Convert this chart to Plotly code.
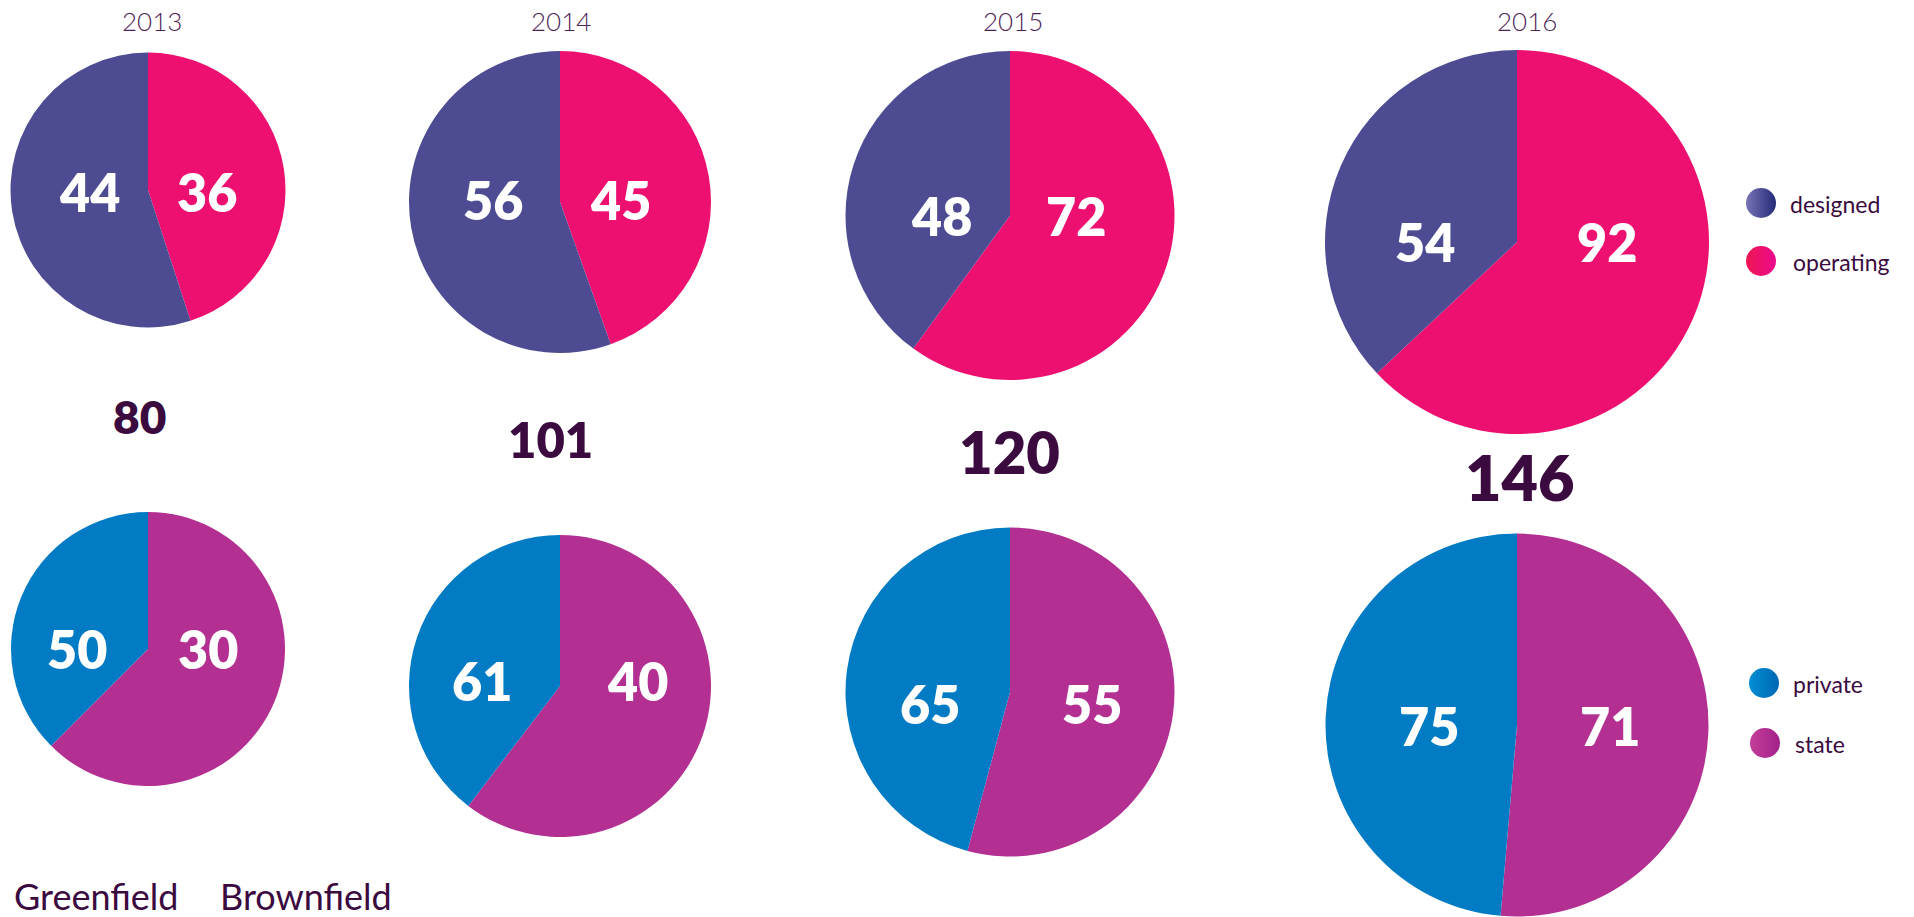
import plotly.graph_objects as go

# ---------------- data ----------------
years = ["2013", "2014", "2015", "2016"]
designed = [44, 56, 48, 54]
operating = [36, 45, 72, 92]
private = [50, 61, 65, 75]
state = [30, 40, 55, 71]
totals = [80, 101, 120, 146]
legend_top = ["designed", "operating"]
legend_bottom = ["private", "state"]
footer_labels = ["Greenfield", "Brownfield"]

# ---------------- layout constants (pixels) ----------------
W, H = 1914, 917
CX = [148, 560, 1010, 1517]
TOP_CY = [190, 202, 215.5, 242]
TOP_D = [275, 302, 329, 384]
BOT_CY = [649, 686, 692, 725]
BOT_D = [274, 302, 329, 383]
TOP_LDX = [(-59, 59), (-67, 60), (-69, 66), (-92, 90)]
BOT_LDX = [(-71, 60), (-78, 77), (-80, 82), (-88, 93)]
TOP_LDY = [2, -2, 0, 0]
BOT_LDY = [0, -5, 12, 1]
YEAR_X = [152, 561, 1013, 1527]
YEAR_Y = 21
TOTAL_XY = [(139, 416), (550, 439), (1009, 451), (1520, 476)]
TOTAL_SIZE = [46, 49, 58, 63]

C_DESIGNED = ("#7873b5", "#242b78", "#4d4c92")
C_OPERATING = ("#ee1652", "#ec0a8d", "#ed1070")
C_PRIVATE = ("#008ed3", "#0067b4", "#007bc4")
C_STATE = ("#c43d98", "#a2218a", "#b32f91")
DARK = "#3b0a3f"
YEAR_COL = "#4f1f58"
FONT = "Lato"

fig = go.Figure()


def dom(cx, cy, d):
    r = d / 2
    return dict(x=[(cx - r) / W, (cx + r) / W], y=[1 - (cy + r) / H, 1 - (cy - r) / H])


annotations = []
for i, yr in enumerate(years):
    # top pie: operating clockwise from 12 o'clock, designed the rest
    fig.add_trace(go.Pie(
        values=[operating[i], designed[i]],
        labels=["operating", "designed"],
        marker=dict(colors=[C_OPERATING[2], C_DESIGNED[2]], line=dict(width=0)),
        sort=False, direction="clockwise", rotation=0,
        textinfo="none", hoverinfo="label+value",
        domain=dom(CX[i], TOP_CY[i], TOP_D[i]), showlegend=False,
    ))
    # bottom pie: slice geometry as drawn in the reference
    fig.add_trace(go.Pie(
        values=[private[i], state[i]],
        labels=["state", "private"],
        marker=dict(colors=[C_STATE[2], C_PRIVATE[2]], line=dict(width=0)),
        sort=False, direction="clockwise", rotation=0,
        textinfo="none", hoverinfo="label+value",
        domain=dom(CX[i], BOT_CY[i], BOT_D[i]), showlegend=False,
    ))
    lab_font = dict(family=FONT, size=52, color="white", weight=800)
    annotations += [
        dict(x=CX[i] + TOP_LDX[i][0], y=TOP_CY[i] + TOP_LDY[i], text=str(designed[i]), font=lab_font),
        dict(x=CX[i] + TOP_LDX[i][1], y=TOP_CY[i] + TOP_LDY[i], text=str(operating[i]), font=lab_font),
        dict(x=CX[i] + BOT_LDX[i][0], y=BOT_CY[i] + BOT_LDY[i], text=str(private[i]), font=lab_font),
        dict(x=CX[i] + BOT_LDX[i][1], y=BOT_CY[i] + BOT_LDY[i], text=str(state[i]), font=lab_font),
        dict(x=YEAR_X[i], y=YEAR_Y, text=yr, font=dict(family=FONT, size=26, color=YEAR_COL, weight=300)),
        dict(x=TOTAL_XY[i][0], y=TOTAL_XY[i][1], text=str(totals[i]),
             font=dict(family=FONT, size=TOTAL_SIZE[i], color=DARK, weight=800)),
    ]

# custom legends (gradient circles)
leg = [
    (legend_top[0], C_DESIGNED, 1761, 203, 1788),
    (legend_top[1], C_OPERATING, 1761, 261, 1791),
    (legend_bottom[0], C_PRIVATE, 1764, 683, 1791),
    (legend_bottom[1], C_STATE, 1765, 743, 1793),
]
for name, col, mx, my, tx in leg:
    fig.add_trace(go.Scatter(
        x=[mx], y=[my], mode="markers", showlegend=False, hoverinfo="skip",
        marker=dict(size=30, color=col[0], gradient=dict(type="horizontal", color=col[1]), line=dict(width=0)),
    ))
    annotations.append(dict(x=tx, y=my + 1, text=name, xanchor="left",
                            font=dict(family=FONT, size=23, color=DARK)))

annotations += [
    dict(x=12, y=896, text=footer_labels[0], xanchor="left", font=dict(family=FONT, size=36, color=DARK)),
    dict(x=218, y=896, text=footer_labels[1], xanchor="left", font=dict(family=FONT, size=36, color=DARK)),
]
for a in annotations:
    a.setdefault("xanchor", "center")
    a.update(xref="x", yref="y", yanchor="middle", showarrow=False)

fig.update_layout(
    width=W, height=H, margin=dict(l=0, r=0, t=0, b=0),
    paper_bgcolor="white", plot_bgcolor="white", showlegend=False,
    xaxis=dict(range=[0, W], visible=False, fixedrange=True, domain=[0, 1]),
    yaxis=dict(range=[H, 0], visible=False, fixedrange=True, domain=[0, 1]),
    annotations=annotations,
)

fig.write_html("out.html", config={"displayModeBar": False},
               post_script="document.body.style.margin='0';document.body.style.overflow='hidden';")
